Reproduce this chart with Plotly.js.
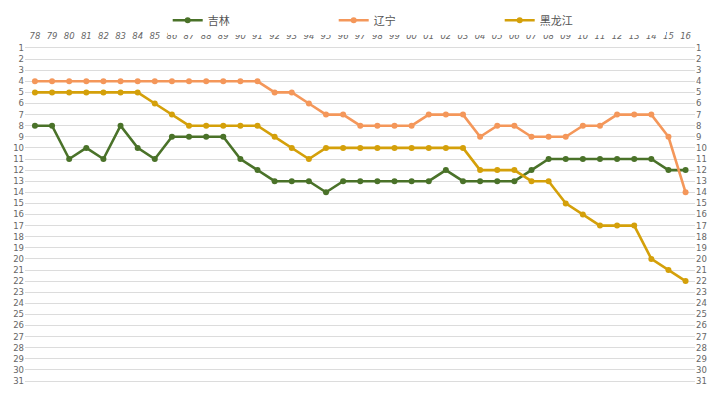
<!DOCTYPE html>
<html>
<head>
<meta charset="utf-8">
<script src="https://cdn.plot.ly/plotly-3.0.1.min.js"></script>
<style>html,body{margin:0;padding:0;background:#fff}#chart{width:720px;height:393px}</style>
</head>
<body>
<div id="chart"></div>
<script>
const years = ["78","79","80","81","82","83","84","85","86","87","88","89","90","91","92","93","94","95","96","97","98","99","00","01","02","03","04","05","06","07","08","09","10","11","12","13","14","15","16"];
const jilin = [8,8,11,10,11,8,10,11,9,9,9,9,11,12,13,13,13,14,13,13,13,13,13,13,12,13,13,13,13,12,11,11,11,11,11,11,11,12,12];
const liaoning = [4,4,4,4,4,4,4,4,4,4,4,4,4,4,5,5,6,7,7,8,8,8,8,7,7,7,9,8,8,9,9,9,8,8,7,7,7,9,14];
const heilongjiang = [5,5,5,5,5,5,5,6,7,8,8,8,8,8,9,10,11,10,10,10,10,10,10,10,10,10,12,12,12,13,13,15,16,17,17,17,20,21,22];
const seriesNames = ["吉林","辽宁","黑龙江"];
const rankTicks = Array.from({length:31},(_,i)=>i+1);

const colors = ["#4a7229","#f4975a","#d4a00a"];
const data = [jilin, liaoning, heilongjiang].map((vals,k)=>({
  x: years, y: vals, name: seriesNames[k], type:"scatter", mode:"lines+markers",
  line:{color:colors[k], width:2.6}, marker:{color:colors[k], size:6}
}));
data.push({x:years, y:jilin, yaxis:"y2", type:"scatter", mode:"lines", showlegend:false, hoverinfo:"skip", line:{width:0}, opacity:0});

const tf = {family:"DejaVu Sans", size:8.5, color:"#666"};
const yr = [31.54, 0.46];
const layout = {
  width:720, height:393,
  margin:{l:25, r:25, t:40, b:6},
  paper_bgcolor:"#fff", plot_bgcolor:"#fff",
  showlegend:true,
  legend:{orientation:"h", x:0.213, xanchor:"left", y:1.063, yanchor:"middle", entrywidth:121, entrywidthmode:"pixels", font:{family:"Noto Sans CJK SC", size:11, color:"#555"}},
  xaxis:{type:"category", side:"top", range:[-0.58, 38.55], showgrid:false, zeroline:false, showline:false, ticks:"", tickfont:Object.assign({style:"italic"}, tf), tickangle:0},
  yaxis:{range:yr, tickvals:rankTicks, ticktext:rankTicks.map(String), showgrid:true, gridcolor:"#dcdcdc", gridwidth:1, zeroline:false, showline:false, ticks:"", tickfont:tf},
  yaxis2:{range:yr, overlaying:"y", side:"right", tickvals:rankTicks, ticktext:rankTicks.map(String), showgrid:false, zeroline:false, showline:false, ticks:"", tickfont:tf}
};
Plotly.newPlot("chart", data, layout, {displayModeBar:false, staticPlot:true});
</script>
</body>
</html>
